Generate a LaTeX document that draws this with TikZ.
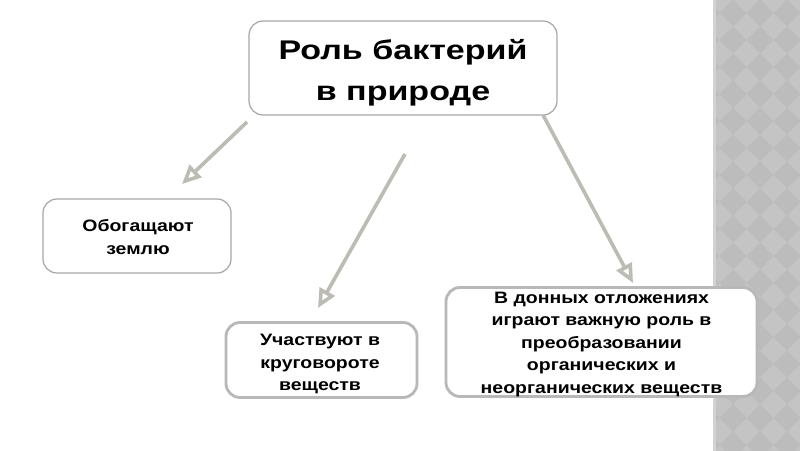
\documentclass[tikz,border=0pt]{standalone}
\usepackage{fontspec}
\setmainfont{Liberation Sans}
\usetikzlibrary{arrows.meta}
\definecolor{arrowgray}{HTML}{BCBCB4}
\definecolor{thinborder}{HTML}{A6A6A6}
\definecolor{thickborder}{HTML}{B8B8B8}
\definecolor{stripbase}{HTML}{C4C4C4}
\definecolor{stripdark}{HTML}{BCBCBC}
\definecolor{stripedge}{HTML}{D2D2D2}
\newcommand\stretchtext[2]{\scalebox{#1}[1]{\begin{tabular}{@{}c@{}}#2\end{tabular}}}
\begin{document}
\begin{tikzpicture}[x=1pt,y=-1pt,
  boxthin/.style={draw=thinborder, line width=1.2pt, rounded corners=14pt, fill=white, inner sep=0pt},
  boxthick/.style={draw=thickborder, line width=2.8pt, rounded corners=14pt, fill=white, inner sep=0pt},
  smalltext/.style={inner sep=0pt, font=\bfseries\fontsize{16.5}{22.5}\selectfont},
  bigtext/.style={inner sep=0pt, font=\bfseries\fontsize{27}{41}\selectfont},
  conn/.style={draw=arrowgray, line width=3.6pt, -{Triangle[open, length=19pt, width=17pt]}}
  ]
\useasboundingbox (0,0) rectangle (800,450);
\fill[white] (0,0) rectangle (800,450);
% right decorative strip
\begin{scope}
  \clip (713,-2) rectangle (802,452);
  \fill[stripbase] (713,-2) rectangle (802,452);
  \foreach \i in {0,...,4}{
    \foreach \j in {0,...,18}{
      \fill[stripdark] ({706+27*\i},{13+27*\j}) ++(-13.5,0) -- ++(13.5,-13.5) -- ++(13.5,13.5) -- ++(-13.5,13.5) -- cycle;
    }
  }
  \fill[stripedge] (713,-2) rectangle (715.5,452);
\end{scope}
% boxes
\node[boxthin, minimum width=308pt, minimum height=94pt] (top) at (403,68) {};
\node[boxthin, minimum width=188pt, minimum height=74pt] (left) at (137,236) {};
\node[boxthick, minimum width=191pt, minimum height=75pt] (mid) at (321.5,360) {};
\node[boxthick, minimum width=311pt, minimum height=109pt] (right) at (601.5,342) {};
% texts
\node[bigtext] (toptext) at (403,72) {\stretchtext{1.26}{Роль бактерий\\в природе}};
\node[smalltext] (lefttext) at (138,238.5) {\stretchtext{1.18}{Обогащают\\землю}};
\node[smalltext] (midtext) at (320,363.5) {\stretchtext{1.18}{Участвуют в\\круговороте\\веществ}};
\node[smalltext] (righttext) at (601.5,343.5) {\stretchtext{1.18}{В донных отложениях\\играют важную роль в\\преобразовании\\органических и\\неорганических веществ}};
% connector ends
\coordinate (s1) at (247,122);
\coordinate (e1) at (182,184);
\coordinate (s2) at (405,154);
\coordinate (e2) at (318,308);
\coordinate (s3) at (543,115);
\coordinate (e3) at (633,283);
\draw[conn] (s1) -- (e1);
\draw[conn] (s2) -- (e2);
\draw[conn] (s3) -- (e3);
\end{tikzpicture}
\end{document}
